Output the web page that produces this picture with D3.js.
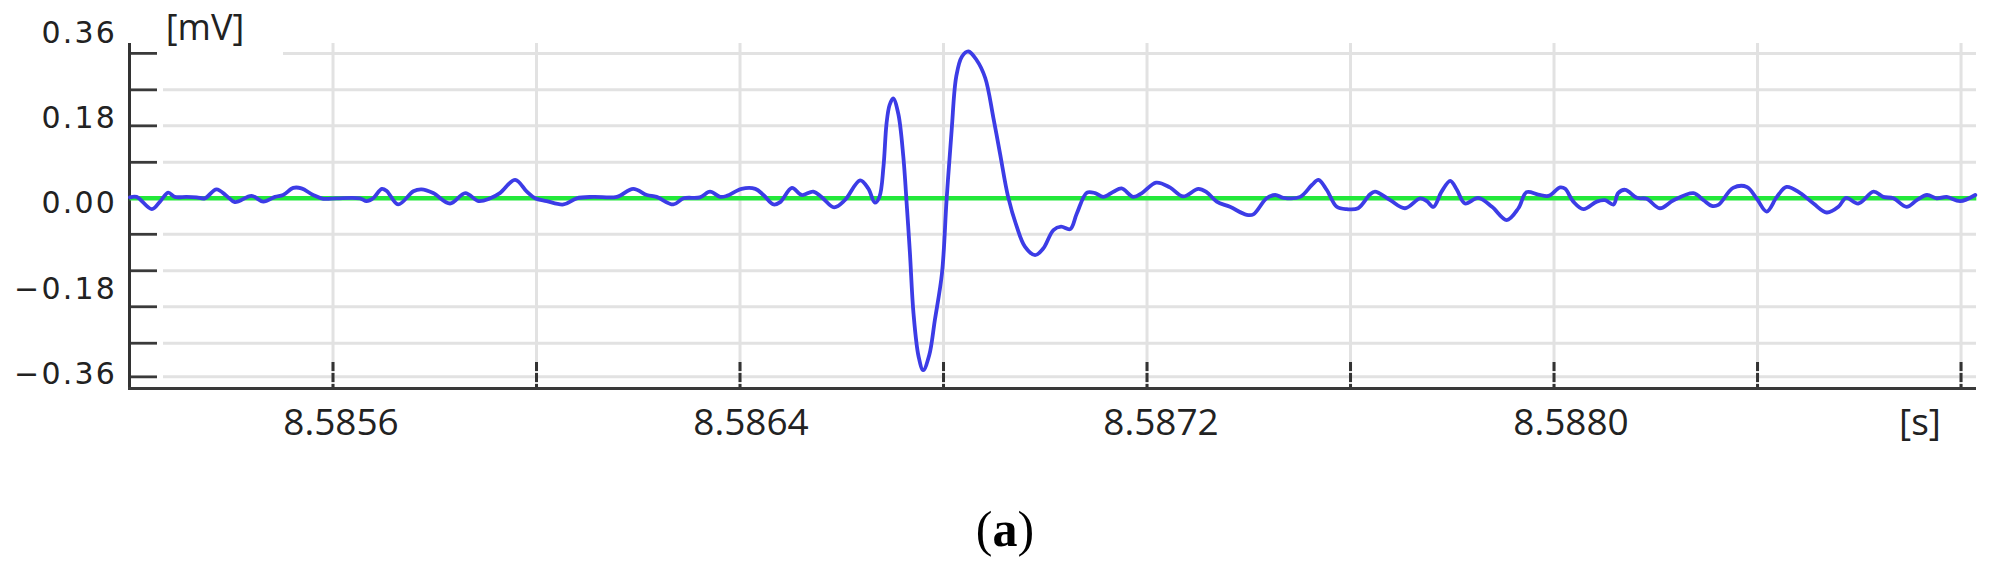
<!DOCTYPE html>
<html>
<head>
<meta charset="utf-8">
<script src="https://cdn.jsdelivr.net/npm/d3@7"></script>
<style>
  html, body { margin: 0; padding: 0; background: #ffffff; }
  svg { display: block; }
</style>
</head>
<body>
<svg id="chart" width="2007" height="571"></svg>
<script>
// ---- data ----
const timeS = [
  8.585201, 8.585214, 8.585244, 8.585260, 8.585276, 8.585289, 8.585312, 8.585332, 8.585348, 8.585371,
  8.585391, 8.585407, 8.585440, 8.585463, 8.585486, 8.585502, 8.585522, 8.585538, 8.585561, 8.585581,
  8.585607, 8.585653, 8.585666, 8.585679, 8.585696, 8.585706, 8.585728, 8.585758, 8.585774, 8.585797,
  8.585830, 8.585860, 8.585886, 8.585909, 8.585928, 8.585958, 8.585981, 8.585997, 8.586020, 8.586053,
  8.586079, 8.586112, 8.586158, 8.586190, 8.586217, 8.586236, 8.586269, 8.586289, 8.586321, 8.586341,
  8.586361, 8.586374, 8.586403, 8.586430, 8.586446, 8.586466, 8.586479, 8.586502, 8.586521, 8.586544,
  8.586561, 8.586585, 8.586606, 8.586636, 8.586652, 8.586665, 8.586674, 8.586682, 8.586688, 8.586694,
  8.586701, 8.586711, 8.586721, 8.586728, 8.586734, 8.586741, 8.586751, 8.586760, 8.586772, 8.586783,
  8.586797, 8.586806, 8.586816, 8.586825, 8.586836, 8.586849, 8.586865, 8.586882, 8.586898, 8.586911,
  8.586927, 8.586944, 8.586960, 8.586980, 8.586996, 8.587016, 8.587031, 8.587049, 8.587062, 8.587082,
  8.587098, 8.587114, 8.587134, 8.587150, 8.587173, 8.587190, 8.587218, 8.587245, 8.587271, 8.587301,
  8.587317, 8.587337, 8.587363, 8.587396, 8.587409, 8.587435, 8.587452, 8.587468, 8.587501, 8.587524,
  8.587537, 8.587553, 8.587573, 8.587593, 8.587615, 8.587638, 8.587648, 8.587678, 8.587707, 8.587737,
  8.587750, 8.587763, 8.587779, 8.587796, 8.587809, 8.587825, 8.587851, 8.587878, 8.587907, 8.587930,
  8.587946, 8.587969, 8.587989, 8.588012, 8.588022, 8.588038, 8.588058, 8.588084, 8.588100, 8.588117,
  8.588126, 8.588140, 8.588163, 8.588182, 8.588208, 8.588235, 8.588274, 8.588294, 8.588310, 8.588323,
  8.588352, 8.588379, 8.588398, 8.588418, 8.588438, 8.588457, 8.588484, 8.588510, 8.588536, 8.588559,
  8.588574, 8.588598, 8.588628, 8.588647, 8.588667, 8.588693, 8.588713, 8.588733, 8.588752, 8.588772,
  8.588798, 8.588828
];
const signalMV = [
  0.002, 0.003, -0.023, -0.007, 0.012, 0.003, 0.003, 0.002, 0.000, 0.019,
  0.005, -0.008, 0.005, -0.007, 0.003, 0.007, 0.022, 0.021, 0.007, -0.001,
  0.000, 0.000, -0.006, 0.000, 0.020, 0.015, -0.013, 0.015, 0.019, 0.011,
  -0.011, 0.011, -0.006, 0.000, 0.011, 0.039, 0.014, 0.000, -0.006, -0.013,
  0.000, 0.003, 0.003, 0.020, 0.007, 0.003, -0.013, 0.000, 0.002, 0.014,
  0.003, 0.005, 0.020, 0.020, 0.007, -0.013, -0.008, 0.022, 0.007, 0.014,
  0.002, -0.019, -0.004, 0.038, 0.021, -0.009, 0.003, 0.067, 0.158, 0.197,
  0.211, 0.179, 0.088, -0.018, -0.116, -0.243, -0.334, -0.363, -0.331, -0.257,
  -0.158, -0.004, 0.144, 0.257, 0.299, 0.310, 0.292, 0.254, 0.170, 0.095,
  0.003, -0.060, -0.102, -0.120, -0.106, -0.067, -0.060, -0.065, -0.032, 0.012,
  0.011, 0.003, 0.014, 0.021, 0.003, 0.011, 0.033, 0.023, 0.004, 0.020,
  0.013, -0.007, -0.018, -0.035, -0.034, 0.000, 0.007, 0.001, 0.003, 0.028,
  0.039, 0.018, -0.018, -0.023, -0.021, 0.008, 0.014, -0.004, -0.021, 0.000,
  -0.006, -0.018, 0.014, 0.037, 0.018, -0.011, 0.001, -0.018, -0.046, -0.021,
  0.013, 0.008, 0.005, 0.023, 0.020, -0.007, -0.023, -0.007, -0.004, -0.013,
  0.011, 0.018, 0.001, -0.001, -0.021, -0.004, 0.011, -0.004, -0.016, -0.014,
  0.022, 0.024, 0.000, -0.028, 0.003, 0.024, 0.011, -0.011, -0.030, -0.018,
  0.001, -0.011, 0.014, 0.003, 0.000, -0.018, -0.004, 0.007, 0.000, 0.003,
  -0.006, 0.007
];
const baselineMV = [0, 0];
const yTickLabels = [0.36, 0.18, 0.00, -0.18, -0.36];
const yGridMV = [0.306, 0.229, 0.153, 0.076, 0, -0.076, -0.153, -0.229, -0.306, -0.377];
const xGridS = [8.5856, 8.5860, 8.5864, 8.5868, 8.5872, 8.5876, 8.5880, 8.5884, 8.5888];
const xTickS = [8.5852, 8.5856, 8.5860, 8.5864, 8.5868, 8.5872, 8.5876, 8.5880, 8.5884, 8.5888];
const xTickLabels = [8.5856, 8.5864, 8.5872, 8.5880];
const yUnit = "[mV]";
const xUnit = "[s]";
const panelLabel = "a";

// ---- scales ----
const tMin = 8.5852, tMax = 8.58883;
const x = d3.scaleLinear().domain([tMin, tMax]).range([129.5, 1976.3]);
const y = d3.scaleLinear().domain([-0.36, 0.36]).range([368.8, 27.8]);
// tick labels sit slightly offset from the gridlines, as in the screenshot
const xLab = d3.scaleLinear().domain([8.5856, 8.5880]).range([341, 1571]);

const svg = d3.select("#chart");
svg.append("rect").attr("width", 2007).attr("height", 571).attr("fill", "#fff");

const plotTop = 43, plotBottom = 388.5, plotRight = 1976;

// horizontal gridlines
svg.append("g").selectAll("line").data(yGridMV).join("line")
  .attr("x1", (d, i) => i === 0 ? 283 : 163).attr("x2", plotRight)
  .attr("y1", d => y(d)).attr("y2", d => y(d))
  .attr("stroke", "#e2e2e2").attr("stroke-width", 3);

// vertical gridlines
svg.append("g").selectAll("line").data(xGridS).join("line")
  .attr("x1", d => x(d)).attr("x2", d => x(d))
  .attr("y1", plotTop).attr("y2", plotBottom)
  .attr("stroke", "#e2e2e2").attr("stroke-width", 3);

// y-axis tick marks
svg.append("g").selectAll("line").data(yGridMV).join("line")
  .attr("x1", 129).attr("x2", 157)
  .attr("y1", d => y(d)).attr("y2", d => y(d))
  .attr("stroke", "#3a3a3a").attr("stroke-width", 2.8);

// x-axis tick marks
svg.append("g").selectAll("line").data(xTickS).join("line")
  .attr("x1", d => x(d)).attr("x2", d => x(d))
  .attr("y1", 362).attr("y2", plotBottom)
  .attr("stroke", "#333").attr("stroke-width", 3)
  .attr("stroke-dasharray", "9,2");

// axes lines
svg.append("line").attr("x1", 129.5).attr("x2", 129.5).attr("y1", plotTop).attr("y2", plotBottom + 1)
  .attr("stroke", "#333").attr("stroke-width", 3);
svg.append("line").attr("x1", 128).attr("x2", plotRight).attr("y1", plotBottom).attr("y2", plotBottom)
  .attr("stroke", "#3a3a3a").attr("stroke-width", 3);

// green baseline
svg.append("line")
  .attr("x1", x(tMin)).attr("x2", x(tMax))
  .attr("y1", y(baselineMV[0])).attr("y2", y(baselineMV[1]))
  .attr("stroke", "#22e83a").attr("stroke-width", 4.5);

// signal trace
const pts = timeS.map((t, i) => [t, signalMV[i]]);
const line = d3.line().x(d => x(d[0])).y(d => y(d[1])).curve(d3.curveCatmullRom.alpha(0.5));
svg.append("path").datum(pts).attr("d", line)
  .attr("fill", "none").attr("stroke", "#3c3ce6").attr("stroke-width", 3.8)
  .attr("stroke-linejoin", "round").attr("stroke-linecap", "round");

// y tick labels
const fmtY = v => (v < 0 ? "\u2212" : "") + Math.abs(v).toFixed(2);
svg.append("g").selectAll("text").data(yTickLabels).join("text")
  .attr("x", 117).attr("y", d => y(d) + 15)
  .attr("text-anchor", "end")
  .attr("font-family", "DejaVu Sans, sans-serif").attr("font-size", 30)
  .attr("letter-spacing", 2.2)
  .attr("fill", "#222")
  .text(fmtY);

// x tick labels
svg.append("g").selectAll("text").data(xTickLabels).join("text")
  .attr("x", d => xLab(d)).attr("y", 435)
  .attr("text-anchor", "middle")
  .attr("font-family", "Open Sans, sans-serif").attr("font-size", 37)
  .attr("fill", "#222")
  .text(d => d.toFixed(4));

// units
svg.append("text").attr("x", 205).attr("y", 40).attr("text-anchor", "middle")
  .attr("font-family", "Open Sans, sans-serif").attr("font-size", 36).attr("fill", "#222")
  .text(yUnit);
svg.append("text").attr("x", 1920).attr("y", 435).attr("text-anchor", "middle")
  .attr("font-family", "Open Sans, sans-serif").attr("font-size", 37).attr("fill", "#222")
  .text(xUnit);

// panel label
const pl = svg.append("text").attr("x", 1005).attr("y", 546).attr("text-anchor", "middle")
  .attr("font-family", "Liberation Serif, Times New Roman, serif").attr("font-size", 50).attr("fill", "#000");
pl.append("tspan").text("(");
pl.append("tspan").attr("font-weight", "bold").text(panelLabel);
pl.append("tspan").text(")");
</script>
</body>
</html>
